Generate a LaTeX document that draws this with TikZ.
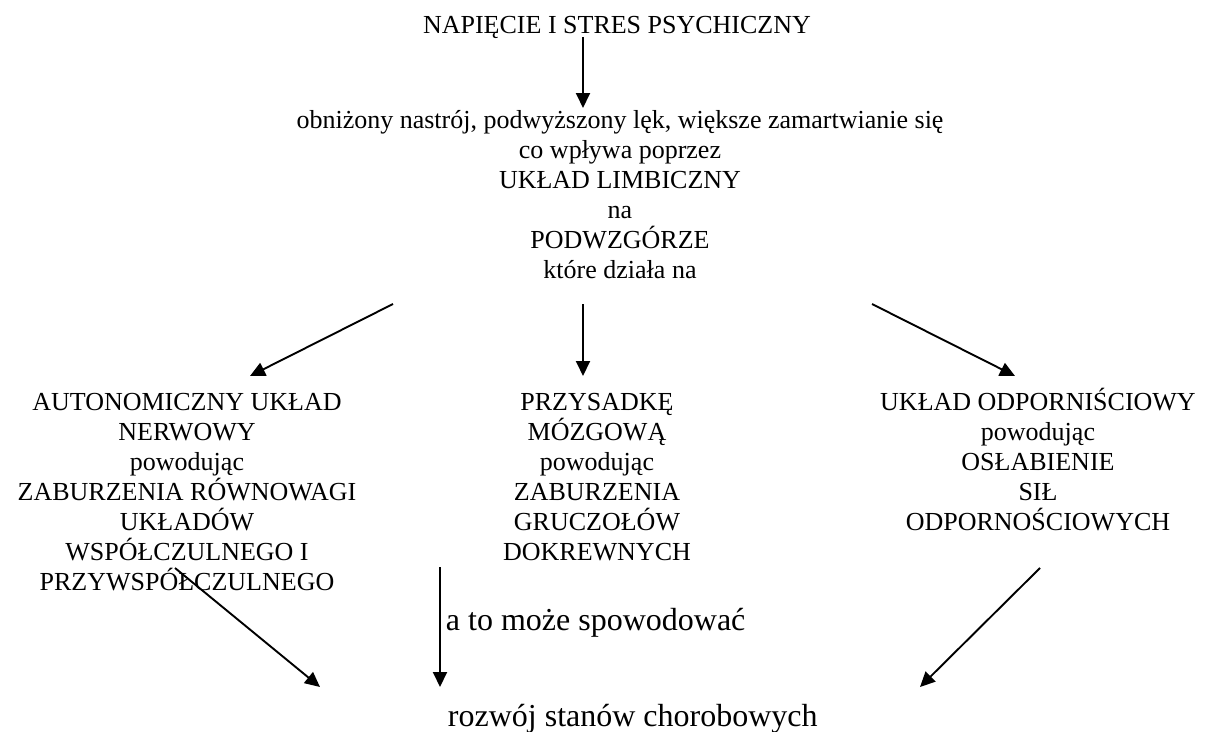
\documentclass[tikz,border=0pt]{standalone}
\usepackage{fontspec}
\setmainfont{Liberation Serif}
\usetikzlibrary{arrows.meta}

\newcommand{\topstrut}{\rule{0pt}{24pt}}

\begin{document}
\begin{tikzpicture}[x=1pt,y=-1pt,>={Triangle[length=15pt,width=14pt]},line width=1.9pt,
  txt/.style={align=center,inner sep=0pt,font=\fontsize{26}{30}\selectfont},
  big/.style={inner sep=0pt,font=\fontsize{32}{37}\selectfont}]
  \useasboundingbox (0,0) rectangle (1215,731);

  % Define nodes
  \node[txt, anchor=base] (stres) at (617,33) {NAPIĘCIE I STRES PSYCHICZNY};
  \node[txt, anchor=north] (podwzgorze) at (620,104) {\topstrut obniżony nastrój, podwyższony lęk, większe zamartwianie się\\
    co wpływa poprzez\\ UKŁAD LIMBICZNY\\ na\\ PODWZGÓRZE\\ które działa na};
  \node[txt, anchor=north] (autonom) at (187,386) {\topstrut AUTONOMICZNY UKŁAD\\ NERWOWY\\ powodując\\
    ZABURZENIA RÓWNOWAGI\\ UKŁADÓW\\ WSPÓŁCZULNEGO I\\ PRZYWSPÓŁCZULNEGO};
  \node[txt, anchor=north] (przysadka) at (597,386) {\topstrut PRZYSADKĘ\\ MÓZGOWĄ\\ powodując\\
    ZABURZENIA\\ GRUCZOŁÓW\\ DOKREWNYCH};
  \node[txt, anchor=north] (odporn) at (1038,386) {\topstrut UKŁAD ODPORNIŚCIOWY\\ powodując\\
    OSŁABIENIE\\ SIŁ\\ ODPORNOŚCIOWYCH};
  \node[big, anchor=base west] (moze) at (445,630) {a to może spowodować};
  \node[big, anchor=base west] (rozwoj) at (447,726) {rozwój stanów chorobowych};

  % Arrow ends
  \coordinate (s0) at (583,37);  \coordinate (e0) at (583,108);
  \coordinate (s1) at (393,304); \coordinate (e1) at (250,376);
  \coordinate (s2) at (583,304); \coordinate (e2) at (583,376);
  \coordinate (s3) at (872,304); \coordinate (e3) at (1015,376);
  \coordinate (s4) at (175,568); \coordinate (e4) at (320,687);
  \coordinate (s5) at (440,567); \coordinate (e5) at (440,687);
  \coordinate (s6) at (1040,568); \coordinate (e6) at (920,687);

  % Draw arrows
  \draw[->] (s0) -- (e0);
  \draw[->] (s1) -- (e1);
  \draw[->] (s2) -- (e2);
  \draw[->] (s3) -- (e3);
  \draw[->] (s4) -- (e4);
  \draw[->] (s5) -- (e5);
  \draw[->] (s6) -- (e6);
\end{tikzpicture}
\end{document}
